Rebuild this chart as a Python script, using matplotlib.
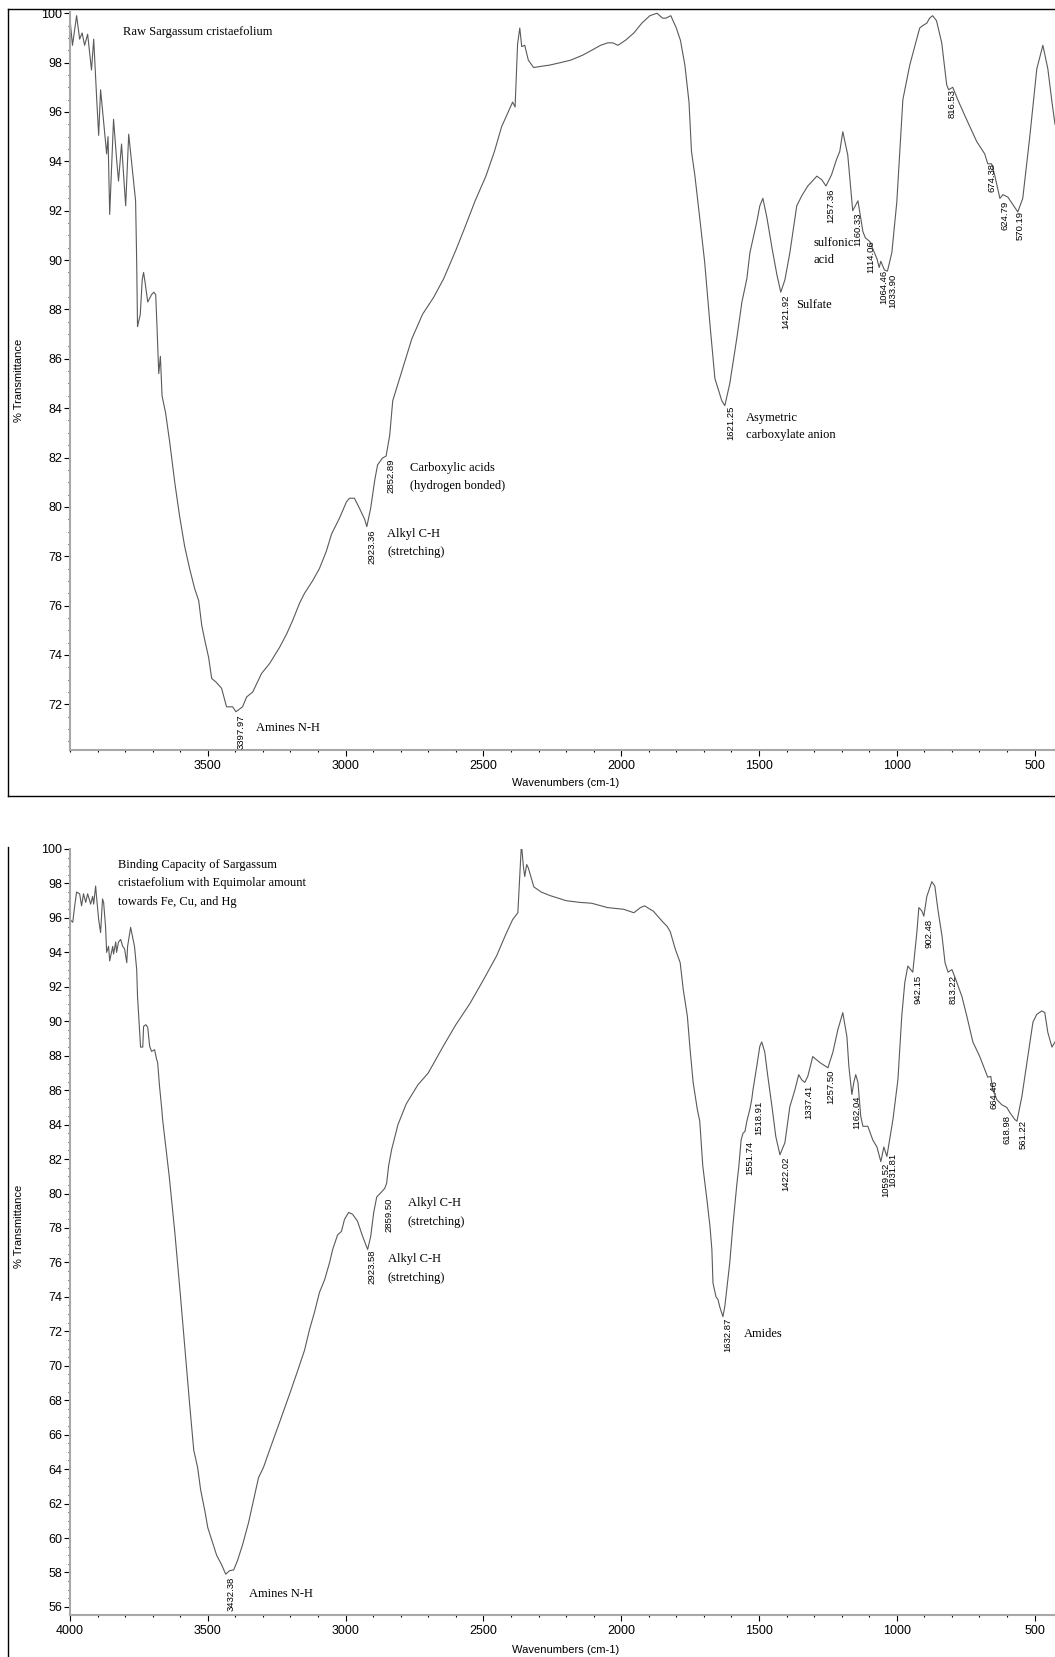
import numpy as np
import matplotlib
matplotlib.use("Agg")
import matplotlib.pyplot as plt
from matplotlib.lines import Line2D
from matplotlib.ticker import MultipleLocator

# FTIR spectrum of the raw seaweed (wavenumber cm-1, % transmittance)
wn_raw = [4000, 3991, 3976, 3965, 3956, 3947, 3936, 3922, 3914, 3903, 3896, 3889, 3878,
          3867, 3862, 3856, 3842, 3831, 3824, 3813, 3798, 3787, 3773, 3762, 3758, 3755,
          3745, 3738, 3733, 3727, 3718, 3704, 3696, 3689, 3684, 3678, 3672, 3666, 3653,
          3638, 3620, 3602, 3584, 3566, 3548, 3533, 3522, 3511, 3497, 3486, 3470, 3450,
          3432, 3410, 3398, 3374, 3359, 3337, 3320, 3305, 3276, 3240, 3214, 3192, 3167,
          3149, 3120, 3095, 3070, 3051, 3022, 2997, 2986, 2968, 2950, 2931, 2923, 2909,
          2894, 2884, 2866, 2853, 2840, 2829, 2796, 2760, 2721, 2680, 2644, 2600, 2568,
          2530, 2491, 2460, 2434, 2410, 2394, 2385, 2376, 2368, 2361, 2350, 2337, 2318,
          2290, 2259, 2220, 2183, 2140, 2107, 2075, 2049, 2030, 2012, 1985, 1954, 1925,
          1896, 1870, 1850, 1838, 1820, 1800, 1785, 1769, 1754, 1745, 1733, 1715, 1697,
          1678, 1660, 1649, 1635, 1624, 1606, 1581, 1562, 1544, 1533, 1508, 1497, 1486,
          1471, 1453, 1435, 1421, 1406, 1388, 1363, 1345, 1323, 1290, 1272, 1257, 1237,
          1218, 1207, 1196, 1178, 1163, 1160, 1141, 1123, 1114, 1098, 1072, 1064, 1058,
          1045, 1034, 1018, 1000, 989, 978, 953, 928, 917, 906, 891, 881, 870, 856, 837,
          819, 812, 797, 779, 747, 710, 681, 670, 656, 645, 626, 615, 597, 579, 561, 543,
          517, 492, 470, 452, 437, 426]
t_raw = [99.76, 98.7, 99.9, 98.95, 99.2, 98.7, 99.15, 97.7, 98.95, 96.5, 95.05, 96.9, 95.6,
         94.3, 95.0, 91.85, 95.7, 94.1, 93.2, 94.7, 92.2, 95.1, 93.6, 92.4, 89.9, 87.3,
         87.8, 89.2, 89.5, 89.05, 88.3, 88.6, 88.7, 88.6, 87.2, 85.4, 86.1, 84.5, 83.8,
         82.6, 81.0, 79.6, 78.4, 77.5, 76.7, 76.2, 75.2, 74.6, 73.9, 73.05, 72.9, 72.65,
         71.9, 71.9, 71.7, 71.9, 72.3, 72.5, 72.9, 73.25, 73.65, 74.3, 74.85, 75.4, 76.1,
         76.5, 77.0, 77.5, 78.2, 78.9, 79.55, 80.2, 80.35, 80.35, 79.95, 79.5, 79.2, 79.95,
         81.1, 81.7, 81.98, 82.06, 82.9, 84.3, 85.5, 86.8, 87.8, 88.5, 89.25, 90.4, 91.3,
         92.4, 93.4, 94.4, 95.4, 96.0, 96.4, 96.2, 98.75, 99.4, 98.65, 98.7, 98.1, 97.8,
         97.85, 97.9, 98.0, 98.1, 98.3, 98.5, 98.7, 98.8, 98.8, 98.7, 98.9, 99.2, 99.6,
         99.9, 100.0, 99.8, 99.8, 99.9, 99.4, 98.9, 97.9, 96.4, 94.4, 93.45, 91.7, 89.9,
         87.4, 85.2, 84.8, 84.3, 84.1, 85.0, 86.8, 88.3, 89.25, 90.3, 91.55, 92.2, 92.5,
         91.7, 90.5, 89.4, 88.7, 89.2, 90.3, 92.2, 92.6, 93.0, 93.4, 93.25, 93.0, 93.45,
         94.1, 94.4, 95.2, 94.26, 92.36, 92.0, 92.4, 91.15, 90.9, 90.75, 90.05, 89.7, 89.95,
         89.6, 89.55, 90.3, 92.35, 94.4, 96.5, 97.9, 98.95, 99.4, 99.5, 99.6, 99.8, 99.9, 99.7, 98.8,
         97.1, 96.9, 97.0, 96.5, 95.7, 94.8, 94.3, 93.9, 93.9, 93.45, 92.5, 92.65, 92.55, 92.25, 91.95, 92.5,
         95.05, 97.75, 98.7, 97.75, 96.4, 95.5]

# FTIR spectrum after metal binding
wn_bind = [4000, 3990, 3983, 3976, 3965, 3958, 3951, 3943, 3936, 3925, 3918, 3914, 3907,
           3903, 3896, 3889, 3882, 3878, 3871, 3867, 3860, 3856, 3845, 3842, 3834, 3831,
           3824, 3816, 3809, 3802, 3794, 3791, 3780, 3773, 3766, 3758, 3755, 3747, 3744,
           3736, 3733, 3725, 3718, 3711, 3704, 3693, 3686, 3682, 3675, 3667, 3664, 3640,
           3620, 3600, 3580, 3565, 3551, 3537, 3526, 3511, 3500, 3482, 3468, 3450, 3435,
           3421, 3406, 3392, 3374, 3352, 3334, 3316, 3298, 3276, 3240, 3200, 3170, 3149,
           3131, 3113, 3095, 3076, 3058, 3047, 3029, 3015, 3004, 2989, 2975, 2957, 2938,
           2920, 2909, 2898, 2887, 2869, 2858, 2851, 2844, 2833, 2810, 2780, 2738, 2700,
           2644, 2600, 2550, 2500, 2452, 2420, 2394, 2375, 2368, 2362, 2355, 2350, 2343,
           2337, 2317, 2290, 2259, 2200, 2150, 2107, 2050, 1991, 1954, 1930, 1915, 1895,
           1884, 1851, 1833, 1822, 1804, 1786, 1775, 1760, 1750, 1739, 1724, 1715, 1704,
           1689, 1678, 1671, 1667, 1656, 1649, 1642, 1631, 1624, 1616, 1606, 1595, 1580,
           1573, 1565, 1558, 1551, 1544, 1533, 1526, 1522, 1508, 1497, 1490, 1479, 1468,
           1453, 1439, 1424, 1406, 1388, 1370, 1356, 1345, 1334, 1323, 1305, 1279, 1250,
           1232, 1214, 1196, 1181, 1174, 1163, 1156, 1149, 1141, 1131, 1123, 1105, 1087,
           1072, 1058, 1047, 1036, 1022, 1014, 996, 982, 971, 960, 942, 927, 920, 909, 902,
           891, 873, 862, 851, 836, 825, 814, 800, 789, 764, 746, 724, 699, 681, 670, 659,
           652, 637, 619, 601, 590, 572, 564, 546, 528, 506, 492, 474, 463, 452, 437, 426]
t_bind = [95.9, 95.75, 96.7, 97.5, 97.4, 96.7, 97.4, 96.9, 97.4, 96.8, 97.25, 96.8, 97.85,
          97.1, 95.9, 95.15, 97.1, 96.9, 95.5, 94.0, 94.35, 93.5, 94.35, 93.9, 94.6, 94.0,
          94.6, 94.75, 94.35, 94.2, 93.4, 94.35, 95.45, 94.9, 94.35, 93.0, 91.45, 89.35, 88.5,
          88.5, 89.7, 89.8, 89.65, 88.55, 88.25, 88.35, 87.8, 87.6, 86.2, 84.9, 84.3, 81.0,
          77.8, 74.2, 70.4, 67.6, 65.1, 64.1, 62.8, 61.6, 60.6, 59.7, 59.0, 58.45, 57.9,
          58.1, 58.15, 58.7, 59.6, 60.9, 62.2, 63.5, 64.1, 65.1, 66.7, 68.5, 69.9, 70.9,
          72.1, 73.1, 74.25, 75.0, 76.0, 76.75, 77.6, 77.8, 78.5, 78.9, 78.8, 78.4, 77.5,
          76.75, 77.5, 78.9, 79.8, 80.1, 80.3, 80.6, 81.6, 82.55, 84.0, 85.2, 86.3, 87.0,
          88.6, 89.8, 91.0, 92.4, 93.8, 95.0, 95.9, 96.3, 98.5, 100.3, 99.0, 98.4, 99.1,
          98.9, 97.8, 97.5, 97.3, 97.0, 96.9, 96.85, 96.6, 96.5, 96.3, 96.6, 96.7, 96.5,
          96.4, 95.8, 95.5, 95.2, 94.2, 93.4, 91.85, 90.3, 88.35, 86.45, 84.9, 84.2, 81.6,
          79.65, 78.1, 76.75, 74.8, 74.0, 73.85, 73.4, 72.85, 73.45, 74.6, 76.0, 78.1, 80.6,
          81.6, 83.1, 83.5, 83.6, 84.2, 84.9, 85.5, 86.0, 87.4, 88.55, 88.8, 88.2, 86.8,
          85.05, 83.3, 82.25, 82.95, 85.05, 86.0, 86.9, 86.6, 86.45, 86.8, 87.95, 87.6, 87.3,
          88.2, 89.5, 90.5, 89.1, 87.4, 85.75, 86.45, 86.9, 86.45, 84.5, 83.9, 83.9, 83.1,
          82.7, 81.85, 82.7, 82.15, 83.5, 84.3, 86.6, 90.3, 92.25, 93.2, 92.85, 95.2, 96.6, 96.4, 96.1,
          97.25, 98.1, 97.85, 96.5, 94.95, 93.4, 92.85, 93.0, 92.55, 91.45, 90.3, 88.8, 87.95, 87.2, 86.75, 86.8,
          86.05, 85.45, 85.15, 85.0, 84.7, 84.3, 84.2, 85.65, 87.6, 89.95, 90.4, 90.6, 90.5, 89.35, 88.5, 88.8]

# peak positions marked on each spectrum
peaks_raw = [3397.97, 2923.36, 2852.89, 1621.25, 1421.92, 1257.36, 1160.33, 1114.06,
             1064.46, 1033.90, 816.53, 674.38, 624.79, 570.19]
peaks_bind = [3432.38, 2923.58, 2859.50, 1632.87, 1551.74, 1518.91, 1422.02, 1337.41,
              1257.50, 1162.04, 1059.52, 1031.81, 942.15, 902.48, 813.22, 664.46, 618.98, 561.22]

W, H = 1055, 1657
fig = plt.figure(figsize=(W / 100, H / 100), dpi=100)

def fx(px):
    return px / W

def fy(py):
    return 1 - py / H

SANS = "Liberation Sans"
SERIF = "Liberation Serif"
LINE_C = "#5a5a5a"
SPINE_C = "#a8a8a8"

# extra drop (pixels) for a few peak labels that sit lower
label_drop = {1518.91: 13, 618.98: 7, 2859.50: 6, 1551.74: 6, 1114.06: 0}


def setup_axes(ax, ylo, yhi, yticks, xticks):
    ax.set_xlim(4000, 426)
    ax.set_ylim(ylo, yhi)
    for s in ("top", "right"):
        ax.spines[s].set_visible(False)
    for s in ("left", "bottom"):
        ax.spines[s].set_color(SPINE_C)
        ax.spines[s].set_linewidth(1.5)
    ax.set_yticks(yticks)
    ax.set_xticks(xticks)
    ax.yaxis.set_minor_locator(MultipleLocator(0.5))
    ax.xaxis.set_minor_locator(MultipleLocator(100))
    ax.tick_params(axis="both", which="major", colors="black", labelsize=9,
                   length=4, width=0.8)
    ax.tick_params(axis="both", which="minor", colors="black", length=1.5, width=0.8)
    ax.tick_params(axis="y", pad=1.5)
    ax.tick_params(axis="x", pad=3)
    for lab in ax.get_xticklabels() + ax.get_yticklabels():
        lab.set_fontfamily(SANS)
    ax.patch.set_alpha(0)


def mark_peaks(ax, wn, t, peaks):
    xs = np.array(wn[::-1], dtype=float)
    ys = np.array(t[::-1], dtype=float)
    for p in peaks:
        yv = np.interp(p, xs, ys)
        ax.annotate(f"{p:.2f}", xy=(p, yv), xytext=(0.5, -3 - label_drop.get(p, 0)),
                    textcoords="offset pixels", rotation=90, ha="left", va="top",
                    fontsize=6.8, family=SANS, color="black")


# ---- top panel: raw biomass ----
ax1 = fig.add_axes([fx(70), fy(750), fx(1055) - fx(70), fy(12) - fy(750)])
ax1.plot(wn_raw, t_raw, color=LINE_C, lw=0.8)
setup_axes(ax1, 70.15, 100.05, np.arange(72, 101, 2), [3500, 3000, 2500, 2000, 1500, 1000, 500])
mark_peaks(ax1, wn_raw, t_raw, peaks_raw)

# ---- bottom panel: after binding ----
ax2 = fig.add_axes([fx(70), fy(1615), fx(1055) - fx(70), fy(849) - fy(1615)])
ax2.plot(wn_bind, t_bind, color=LINE_C, lw=0.8)
setup_axes(ax2, 55.53, 100.0, np.arange(56, 101, 2), [4000, 3500, 3000, 2500, 2000, 1500, 1000, 500])
mark_peaks(ax2, wn_bind, t_bind, peaks_bind)

# axis titles
for yc in (380, 1226):
    fig.text(fx(19), fy(yc), "% Transmittance", rotation=90, ha="center", va="center",
             fontsize=8, family=SANS)
for yc in (783, 1650):
    fig.text(fx(566), fy(yc), "Wavenumbers (cm-1)", ha="center", va="center",
             fontsize=8, family=SANS)

# band assignments and panel captions
notes = [
    ("Raw Sargassum cristaefolium", 123, 32),
    ("Amines N-H", 256, 728),
    ("Alkyl C-H", 387, 534),
    ("(stretching)", 387, 552),
    ("Carboxylic acids", 410, 468),
    ("(hydrogen bonded)", 410, 486),
    ("Asymetric", 746, 418),
    ("carboxylate anion", 746, 435),
    ("Sulfate", 796, 305),
    ("sulfonic", 813, 243),
    ("acid", 813, 260),
    ("Binding Capacity of Sargassum", 118, 865),
    ("cristaefolium with Equimolar amount", 118, 883),
    ("towards Fe, Cu, and Hg", 118, 902),
    ("Amines N-H", 249, 1594),
    ("Alkyl C-H", 388, 1259),
    ("(stretching)", 388, 1278),
    ("Alkyl C-H", 408, 1203),
    ("(stretching)", 408, 1222),
    ("Amides", 744, 1334),
]
for txt, x, y in notes:
    fig.text(fx(x), fy(y), txt, ha="left", va="center", fontsize=9, family=SERIF)

# outer frames
frame = dict(color="black", lw=1.0, transform=fig.transFigure)
fig.add_artist(Line2D([fx(8), fx(8)], [fy(9), fy(796)], **frame))
fig.add_artist(Line2D([fx(8), 1], [fy(9), fy(9)], **frame))
fig.add_artist(Line2D([fx(8), 1], [fy(796), fy(796)], **frame))
fig.add_artist(Line2D([fx(8), fx(8)], [fy(847), 0], **frame))

fig.savefig("out.png", dpi=100)
